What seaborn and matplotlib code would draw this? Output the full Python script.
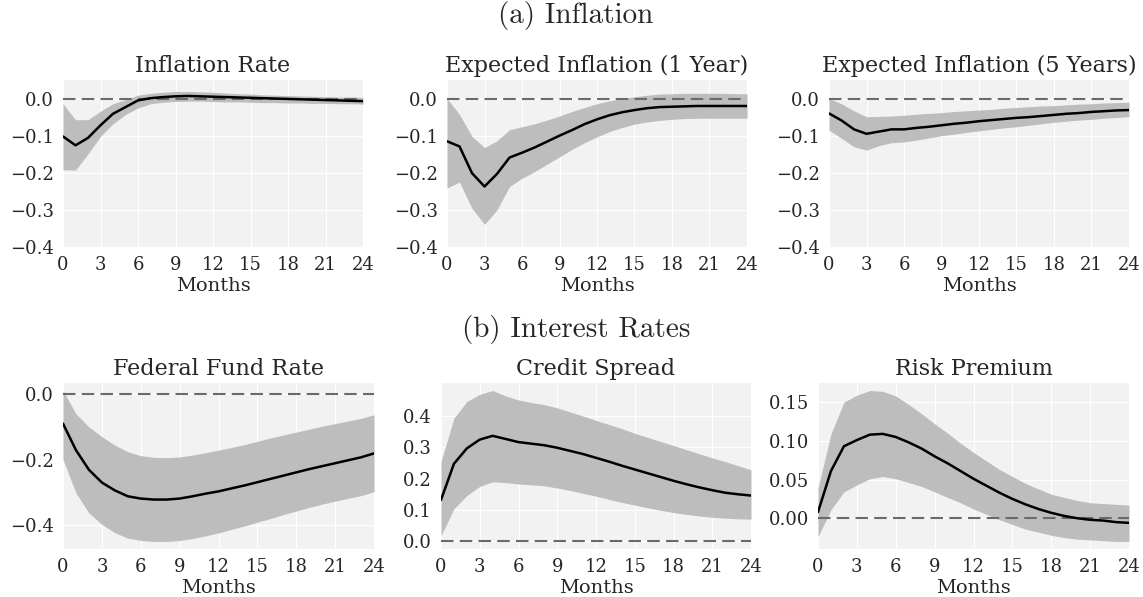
import matplotlib
matplotlib.use("Agg")
import matplotlib.pyplot as plt
import numpy as np
import pandas as pd
import seaborn as sns

months = list(range(25))

# (a) Inflation
infl_mean = [-0.102, -0.126, -0.106, -0.072, -0.041, -0.023, -0.005, 0.001, 0.004, 0.006,
             0.007, 0.006, 0.005, 0.004, 0.003, 0.002, 0.001, 0.000, -0.001, -0.002,
             -0.003, -0.004, -0.005, -0.006, -0.007]
infl_hi = [-0.014, -0.057, -0.057, -0.034, -0.014, -0.003, 0.009, 0.014, 0.017, 0.019,
           0.019, 0.018, 0.017, 0.015, 0.013, 0.012, 0.010, 0.009, 0.008, 0.007,
           0.006, 0.005, 0.004, 0.004, 0.003]
infl_lo = [-0.192, -0.193, -0.149, -0.102, -0.068, -0.043, -0.025, -0.014, -0.010, -0.008,
           -0.007, -0.007, -0.008, -0.009, -0.009, -0.010, -0.011, -0.011, -0.012, -0.012,
           -0.013, -0.013, -0.014, -0.014, -0.015]

exp1_mean = [-0.115, -0.129, -0.201, -0.237, -0.203, -0.159, -0.146, -0.132, -0.116, -0.100,
             -0.085, -0.069, -0.056, -0.045, -0.037, -0.031, -0.026, -0.023, -0.022, -0.021,
             -0.020, -0.020, -0.020, -0.020, -0.020]
exp1_hi = [0.000, -0.043, -0.102, -0.132, -0.114, -0.084, -0.076, -0.068, -0.058, -0.047,
           -0.035, -0.024, -0.014, -0.006, 0.000, 0.005, 0.009, 0.012, 0.013, 0.014,
           0.014, 0.014, 0.014, 0.013, 0.013]
exp1_lo = [-0.241, -0.225, -0.296, -0.339, -0.300, -0.237, -0.215, -0.197, -0.177, -0.157,
           -0.137, -0.119, -0.103, -0.089, -0.078, -0.069, -0.063, -0.059, -0.056, -0.054,
           -0.053, -0.053, -0.053, -0.053, -0.053]

exp5_mean = [-0.040, -0.059, -0.083, -0.095, -0.089, -0.083, -0.083, -0.079, -0.076, -0.072,
             -0.068, -0.065, -0.061, -0.058, -0.055, -0.052, -0.050, -0.047, -0.044, -0.041,
             -0.039, -0.036, -0.034, -0.032, -0.031]
exp5_hi = [0.000, -0.014, -0.033, -0.049, -0.048, -0.047, -0.045, -0.042, -0.040, -0.038,
           -0.035, -0.033, -0.031, -0.029, -0.026, -0.024, -0.022, -0.020, -0.019, -0.017,
           -0.015, -0.014, -0.012, -0.011, -0.010]
exp5_lo = [-0.085, -0.107, -0.130, -0.139, -0.127, -0.119, -0.117, -0.112, -0.106, -0.100,
           -0.096, -0.091, -0.087, -0.083, -0.079, -0.076, -0.072, -0.068, -0.064, -0.061,
           -0.058, -0.056, -0.053, -0.051, -0.049]

# (b) Interest rates
ffr_mean = [-0.090, -0.171, -0.231, -0.270, -0.294, -0.312, -0.319, -0.322, -0.322, -0.319,
            -0.312, -0.304, -0.297, -0.288, -0.279, -0.269, -0.259, -0.249, -0.239, -0.229,
            -0.220, -0.211, -0.202, -0.193, -0.181]
ffr_hi = [0.011, -0.060, -0.100, -0.130, -0.156, -0.176, -0.188, -0.193, -0.194, -0.192,
          -0.186, -0.179, -0.171, -0.163, -0.154, -0.144, -0.134, -0.125, -0.116, -0.107,
          -0.098, -0.090, -0.082, -0.074, -0.063]
ffr_lo = [-0.200, -0.302, -0.363, -0.398, -0.423, -0.440, -0.447, -0.450, -0.450, -0.447,
          -0.441, -0.433, -0.424, -0.413, -0.403, -0.391, -0.380, -0.368, -0.357, -0.346,
          -0.336, -0.327, -0.318, -0.310, -0.298]

cs_mean = [0.132, 0.247, 0.296, 0.324, 0.336, 0.326, 0.316, 0.311, 0.306, 0.298,
           0.288, 0.278, 0.266, 0.254, 0.241, 0.229, 0.217, 0.205, 0.193, 0.182,
           0.172, 0.163, 0.155, 0.150, 0.146]
cs_hi = [0.254, 0.392, 0.445, 0.468, 0.480, 0.463, 0.450, 0.442, 0.435, 0.425,
         0.412, 0.399, 0.385, 0.372, 0.359, 0.344, 0.331, 0.318, 0.305, 0.292,
         0.279, 0.266, 0.254, 0.241, 0.228]
cs_lo = [0.018, 0.104, 0.146, 0.175, 0.190, 0.187, 0.183, 0.180, 0.177, 0.170,
         0.162, 0.153, 0.144, 0.134, 0.124, 0.116, 0.107, 0.099, 0.092, 0.086,
         0.081, 0.077, 0.074, 0.072, 0.071]

rp_mean = [0.008, 0.061, 0.093, 0.101, 0.108, 0.109, 0.105, 0.098, 0.090, 0.080,
           0.071, 0.061, 0.051, 0.042, 0.033, 0.025, 0.018, 0.012, 0.007, 0.003,
           0.000, -0.002, -0.003, -0.005, -0.006]
rp_hi = [0.039, 0.109, 0.150, 0.159, 0.165, 0.164, 0.158, 0.147, 0.135, 0.122,
         0.110, 0.097, 0.085, 0.074, 0.063, 0.054, 0.045, 0.038, 0.031, 0.027,
         0.023, 0.020, 0.019, 0.018, 0.017]
rp_lo = [-0.024, 0.011, 0.034, 0.043, 0.051, 0.054, 0.051, 0.046, 0.041, 0.034,
         0.027, 0.020, 0.012, 0.005, -0.002, -0.008, -0.014, -0.018, -0.022, -0.025,
         -0.027, -0.028, -0.029, -0.030, -0.030]

row_titles = ["(a) Inflation", "(b) Interest Rates"]
panels = [
    [("Inflation Rate", infl_mean, infl_lo, infl_hi),
     ("Expected Inflation (1 Year)", exp1_mean, exp1_lo, exp1_hi),
     ("Expected Inflation (5 Years)", exp5_mean, exp5_lo, exp5_hi)],
    [("Federal Fund Rate", ffr_mean, ffr_lo, ffr_hi),
     ("Credit Spread", cs_mean, cs_lo, cs_hi),
     ("Risk Premium", rp_mean, rp_lo, rp_hi)],
]
# y ticks per panel (None = automatic)
yticks = [
    [[-0.4, -0.3, -0.2, -0.1, 0.0]] * 3,
    [[-0.4, -0.2, 0.0], [0.0, 0.1, 0.2, 0.3, 0.4], [0.0, 0.05, 0.10, 0.15]],
]
yfmt = [["{:.1f}"] * 3, ["{:.1f}", "{:.1f}", "{:.2f}"]]

sns.set_style("darkgrid", {"axes.facecolor": "#f2f2f2", "grid.color": "white"})
plt.rcParams["font.family"] = ["DejaVu Serif"]
plt.rcParams["font.size"] = 13

W, H = 1143, 597
fig = plt.figure(figsize=(W / 100, H / 100), dpi=100)

# pixel boxes (left, right) per row, plus (top, bottom)
boxes = [
    ([(63, 363), (447, 747), (829, 1129)], (80, 247)),
    ([(63, 374), (441, 751), (818, 1129)], (383, 549)),
]

for r, row in enumerate(panels):
    cols, (top, bot) = boxes[r]
    for c, (title, mean, lo, hi) in enumerate(row):
        left, right = cols[c]
        ax = fig.add_axes([left / W, 1 - bot / H, (right - left) / W, (bot - top) / H])
        df = pd.DataFrame({"month": months, "mean": mean, "lo": lo, "hi": hi})
        ax.fill_between(df["month"], df["lo"], df["hi"], color="#bdbdbd", lw=0, zorder=2)
        ax.axhline(0, color="#6a6a6a", lw=1.5, ls=(0, (6, 3)), zorder=3)
        sns.lineplot(data=df, x="month", y="mean", color="black", lw=1.8, ax=ax, zorder=4)
        ax.set_xlim(0, 24)
        ax.set_xticks(range(0, 25, 3))
        if r == 0:
            ax.set_ylim(-0.4, 0.05)
        ticks = yticks[r][c]
        ax.set_yticks(ticks)
        ax.set_yticklabels([yfmt[r][c].format(t).replace("-", "\u2212") for t in ticks])
        ax.set_xlabel("Months", fontsize=14, labelpad=2)
        ax.set_ylabel("")
        ax.set_title(title, fontsize=16, pad=6)
        ax.tick_params(labelsize=13, pad=3)
        for s in ax.spines.values():
            s.set_visible(False)

fig.text(0.504, 1 - 16 / H, row_titles[0], ha="center", va="center",
         family="cmr10", fontsize=21)
fig.text(0.504, 1 - 330 / H, row_titles[1], ha="center", va="center",
         family="cmr10", fontsize=21)

fig.savefig("out.png", dpi=100)
